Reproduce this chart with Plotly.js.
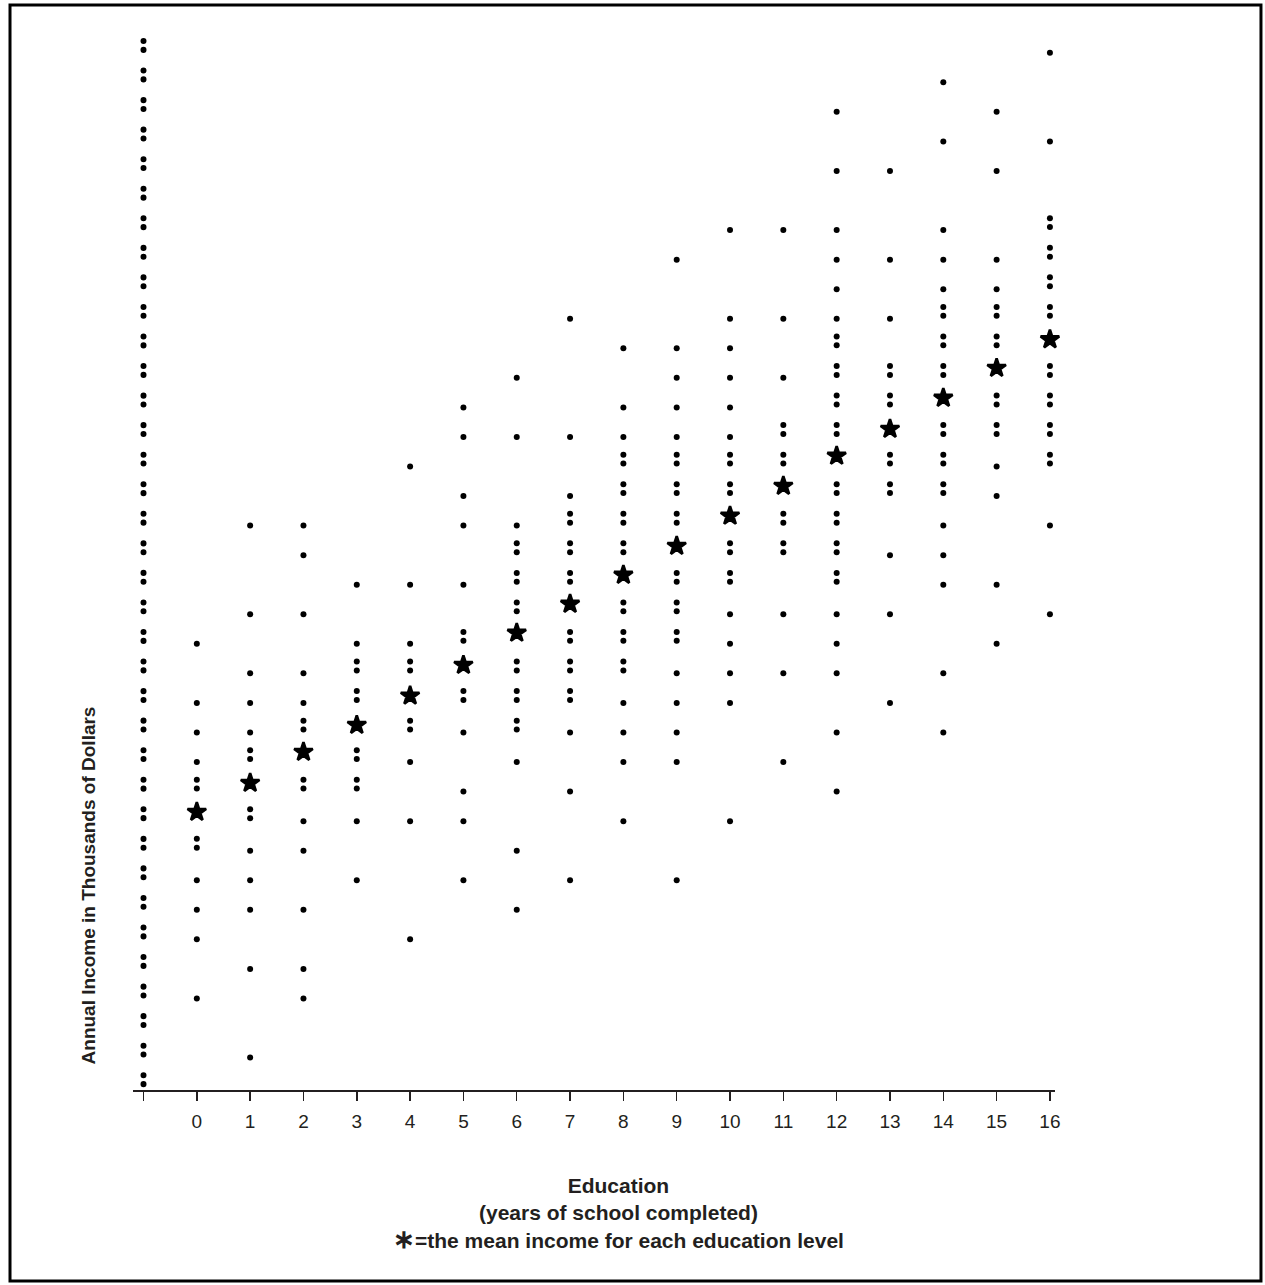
<!DOCTYPE html>
<html>
<head>
<meta charset="utf-8">
<script src="https://cdn.plot.ly/plotly-3.0.1.min.js"></script>
<style>
  html, body { margin: 0; padding: 0; background: #ffffff; }
  #chart { width: 1265px; height: 1285px; }
</style>
</head>
<body>
<div id="chart"></div>
<script>
// ---- Data (income in thousands of dollars) ----
const educationYears = [0, 1, 2, 3, 4, 5, 6, 7, 8, 9, 10, 11, 12, 13, 14, 15, 16];

const incomeEdu0  = [15, 13, 12, 11, 10.4, 10.1, 8.4, 8.1, 7, 6, 5, 3];
const incomeEdu1  = [19, 16, 14, 13, 12, 11.4, 11.1, 9.4, 9.1, 8, 7, 6, 4, 1];
const incomeEdu2  = [19, 18, 16, 14, 13, 12.4, 12.1, 10.4, 10.1, 9, 8, 6, 4, 3];
const incomeEdu3  = [17, 15, 14.4, 14.1, 13.4, 13.1, 11.4, 11.1, 10.4, 10.1, 9, 7];
const incomeEdu4  = [21, 17, 15, 14.4, 14.1, 12.4, 12.1, 11, 9, 5];
const incomeEdu5  = [23, 22, 20, 19, 17, 15.4, 15.1, 13.4, 13.1, 12, 10, 9, 7];
const incomeEdu6  = [24, 22, 19, 18.4, 18.1, 17.4, 17.1, 16.4, 16.1, 14.4, 14.1, 13.4, 13.1, 12.4, 12.1, 11, 8, 6];
const incomeEdu7  = [26, 22, 20, 19.4, 19.1, 18.4, 18.1, 17.4, 17.1, 15.4, 15.1, 14.4, 14.1, 13.4, 13.1, 12, 10, 7];
const incomeEdu8  = [25, 23, 22, 21.4, 21.1, 20.4, 20.1, 19.4, 19.1, 18.4, 18.1, 16.4, 16.1, 15.4, 15.1, 14.4, 14.1, 13, 12, 11, 9];
const incomeEdu9  = [28, 25, 24, 23, 22, 21.4, 21.1, 20.4, 20.1, 19.4, 19.1, 17.4, 17.1, 16.4, 16.1, 15.4, 15.1, 14, 13, 12, 11, 7];
const incomeEdu10 = [29, 26, 25, 24, 23, 22, 21.4, 21.1, 20.4, 20.1, 18.4, 18.1, 17.4, 17.1, 16, 15, 14, 13, 9];
const incomeEdu11 = [29, 26, 24, 22.4, 22.1, 21.4, 21.1, 19.4, 19.1, 18.4, 18.1, 16, 14, 11];
const incomeEdu12 = [33, 31, 29, 28, 27, 26, 25.4, 25.1, 24.4, 24.1, 23.4, 23.1, 22.4, 22.1, 20.4, 20.1, 19.4, 19.1, 18.4, 18.1, 17.4, 17.1, 16, 15, 14, 12, 10];
const incomeEdu13 = [31, 28, 26, 24.4, 24.1, 23.4, 23.1, 21.4, 21.1, 20.4, 20.1, 18, 16, 13];
const incomeEdu14 = [34, 32, 29, 28, 27, 26.4, 26.1, 25.4, 25.1, 24.4, 24.1, 22.4, 22.1, 21.4, 21.1, 20.4, 20.1, 19, 18, 17, 14, 12];
const incomeEdu15 = [33, 31, 28, 27, 26.4, 26.1, 25.4, 25.1, 23.4, 23.1, 22.4, 22.1, 21, 20, 17, 15];
const incomeEdu16 = [35, 32, 29.4, 29.1, 28.4, 28.1, 27.4, 27.1, 26.4, 26.1, 24.4, 24.1, 23.4, 23.1, 22.4, 22.1, 21.4, 21.1, 19, 16];

const meanIncome = [9.31, 10.29, 11.34, 12.25, 13.24, 14.28, 15.37, 16.35, 17.33, 18.31, 19.33, 20.34, 21.36, 22.27, 23.32, 24.33, 25.30];

const tickPositions = [-1, 0, 1, 2, 3, 4, 5, 6, 7, 8, 9, 10, 11, 12, 13, 14, 15, 16];
const tickLabels = ['', '0', '1', '2', '3', '4', '5', '6', '7', '8', '9', '10', '11', '12', '13', '14', '15', '16'];

// ---- Build traces ----
const incomeByEducation = [incomeEdu0, incomeEdu1, incomeEdu2, incomeEdu3, incomeEdu4, incomeEdu5,
  incomeEdu6, incomeEdu7, incomeEdu8, incomeEdu9, incomeEdu10, incomeEdu11, incomeEdu12,
  incomeEdu13, incomeEdu14, incomeEdu15, incomeEdu16];

const px = [], py = [];
incomeByEducation.forEach((vals, i) => {
  vals.forEach(v => { px.push(educationYears[i]); py.push(v); });
});

const ink = '#231f20';
const font = 'Liberation Sans, Arial, Helvetica, sans-serif';

const individuals = {
  type: 'scatter', mode: 'markers', x: px, y: py,
  marker: { size: 6, color: '#000000' },
  hoverinfo: 'x+y', showlegend: false, cliponaxis: false
};

const means = {
  type: 'scatter', mode: 'markers', x: educationYears, y: meanIncome,
  marker: { symbol: 'star', size: 14, color: '#000000', line: { width: 2.6, color: '#000000' } },
  hoverinfo: 'x+y', showlegend: false, cliponaxis: false
};

const layout = {
  width: 1265, height: 1285,
  margin: { l: 133, r: 210, t: 30, b: 195 },
  paper_bgcolor: '#ffffff', plot_bgcolor: '#ffffff',
  showlegend: false,
  font: { family: font, color: ink },
  xaxis: {
    range: [-1.197, 16.095],
    tickmode: 'array', tickvals: tickPositions, ticktext: tickLabels,
    ticks: 'outside', ticklen: 9, tickwidth: 1.5, tickcolor: ink,
    ticklabelstandoff: 4,
    tickfont: { family: font, size: 19, color: ink },
    showline: true, linecolor: ink, linewidth: 2,
    showgrid: false, zeroline: false, fixedrange: true
  },
  yaxis: {
    range: [-0.098, 35.77],
    showline: false, showticklabels: false, ticks: '',
    showgrid: false, zeroline: false, fixedrange: true
  },
  shapes: [
    // dotted vertical axis drawn as pairs of round dots
    { type: 'line', xref: 'x', yref: 'y', x0: -1, x1: -1, y0: 0.1, y1: 35.45,
      line: { color: '#000000', width: 6, dash: '0.1px,8.77px,0.1px,20.58px' } },
    // outer frame
    { type: 'rect', xref: 'paper', yref: 'paper', x0: -0.1334, x1: 1.2234, y0: -0.1802, y1: 1.0236,
      line: { color: '#000000', width: 3 }, fillcolor: 'rgba(0,0,0,0)' }
  ],
  annotations: [
    { xref: 'paper', yref: 'paper', x: -0.0488, y: 0.193, xanchor: 'center', yanchor: 'middle',
      text: 'Annual Income in Thousands of Dollars', textangle: -90, showarrow: false,
      font: { family: font, size: 19, color: ink, weight: 'bold' } },
    { xref: 'paper', yref: 'paper', x: 0.527, y: -0.117, xanchor: 'center', yanchor: 'middle',
      text: 'Education<br>(years of school completed)<br><span style="font-size:26px">\u2217</span>=the mean income for each education level',
      showarrow: false, align: 'center',
      font: { family: font, size: 21, color: ink, weight: 'bold' } }
  ]
};

Plotly.newPlot('chart', [individuals, means], layout, { staticPlot: true, displayModeBar: false })
  .then(gd => {
    // round line caps turn the dashed axis into round dots
    gd.querySelectorAll('.shapelayer path').forEach(p => { p.style.strokeLinecap = 'round'; });
  });
</script>
</body>
</html>
